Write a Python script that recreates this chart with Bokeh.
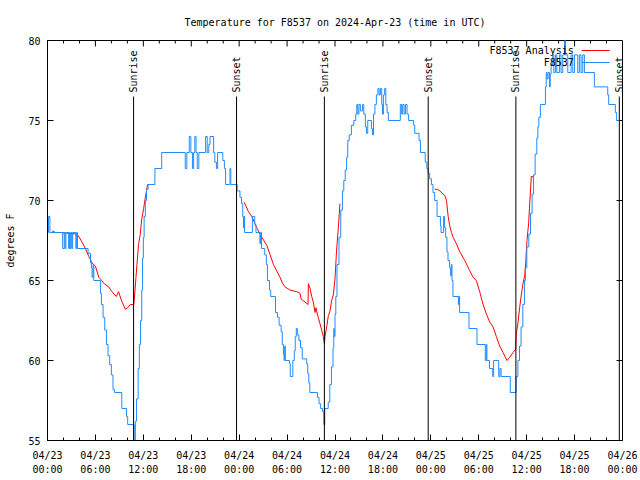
import math
from bokeh.plotting import figure
from bokeh.models import Range1d, FixedTicker, Label
from bokeh.core.properties import value
from bokeh.embed import file_html
from bokeh.resources import INLINE

NaN = float("nan")

# ---- axis ticks (hours since 2024-04-23 00:00 UTC) ----
tick_hours = [0, 6, 12, 18, 24, 30, 36, 42, 48, 54, 60, 66, 72]
tick_labels = ["04/23\n00:00", "04/23\n06:00", "04/23\n12:00", "04/23\n18:00",
               "04/24\n00:00", "04/24\n06:00", "04/24\n12:00", "04/24\n18:00",
               "04/25\n00:00", "04/25\n06:00", "04/25\n12:00", "04/25\n18:00",
               "04/26\n00:00"]
minor_hours = [2, 4, 8, 10, 14, 16, 20, 22, 26, 28, 32, 34, 38, 40, 44, 46,
               50, 52, 56, 58, 62, 64, 68, 70]
y_ticks = [55, 60, 65, 70, 75, 80]

# ---- observed temperature F8537 (hours, degF) ----
obs_hours = [0.0, 0.12, 0.3, 1.9, 2.1, 2.2, 2.3, 2.65, 2.75, 2.85, 2.95, 3.05, 3.15, 3.55, 3.65, 3.75,
             5.08, 5.38, 5.5, 5.58, 5.7, 5.8, 6.63, 6.75, 6.96, 7.17, 7.38, 7.58, 7.79, 8.0, 8.2, 8.38,
             9.3, 9.9, 10.04, 10.85, 11.0, 11.15, 11.35, 11.5, 11.65, 11.8, 11.9, 12.0, 12.1, 12.25,
             12.4, 12.6, 13.45, 14.3, 17.25, 17.45, 17.75, 17.95, 18.15, 18.3, 18.45, 18.6, 18.75,
             18.95, 19.8, 20.0, 20.2, 20.35, 20.8, 20.95, 21.15, 21.3, 21.95, 22.15, 22.3, 22.85,
             22.95, 23.75, 24.1, 24.3, 24.45, 24.54, 24.6, 24.68, 25.65, 25.95, 26.1, 26.6, 26.68,
             26.8, 27.2, 27.4, 27.54, 27.8, 27.95, 28.55, 28.8, 29.0, 29.25, 29.4, 29.54, 29.62,
             29.7, 29.78, 30.3, 30.4, 30.72, 30.9, 31.02, 31.15, 31.28, 31.48, 31.68, 31.9, 32.45,
             32.58, 32.72, 32.85, 33.8, 34.0, 34.2, 34.45, 34.6, 34.72, 35.15, 35.35, 35.55, 35.75,
             35.85, 35.92, 36.0, 36.1, 36.25, 36.5, 36.72, 36.93, 37.1, 37.28, 37.45, 37.6, 37.78,
             38.05, 38.35, 38.6, 38.73, 38.85, 39.0, 39.18, 39.45, 39.6, 39.8, 39.94, 40.1, 40.56,
             40.68, 40.82, 41.0, 41.18, 41.38, 41.52, 41.68, 41.85, 41.95, 42.06, 42.22, 42.36,
             42.52, 42.68, 44.18, 44.35, 44.48, 44.65, 44.82, 45.02, 45.22, 45.85, 45.98, 46.52,
             46.7, 47.3, 47.5, 47.65, 47.85, 48.08, 48.27, 48.48, 48.78, 49.2, 49.28, 49.6, 49.72,
             49.86, 50.02, 50.15, 50.35, 50.48, 50.57, 50.65, 50.77, 51.45, 51.52, 51.6, 52.78,
             53.78, 54.82, 54.94, 55.02, 55.35, 55.75, 55.86, 56.5, 56.65, 56.8, 57.95, 58.68,
             58.9, 59.1, 59.3, 59.52, 59.72, 59.86, 60.02, 60.27, 60.48, 60.68, 60.86, 61.06,
             61.27, 61.4, 61.52, 61.72, 62.35, 62.45, 62.56, 62.68, 62.85, 62.95, 63.06, 63.27,
             63.4, 63.6, 63.77, 64.1, 64.3, 64.52, 64.73, 64.86, 65.15, 65.56, 65.77, 65.98, 66.4,
             66.6, 66.81, 67.02, 67.23, 68.48, 70.15, 70.27, 71.1, 71.27, 71.65]
obs_temps = [68, 69, 68, 67, 68, 67, 68, 67, 68, 67, 68, 67, 68, 67, 68, 67,
             66.7, 66.1, 65.8, 65.2, 66.0, 65.0, 64.2, 63.5, 62.7, 61.9, 61.0, 60.3, 59.75, 59.1, 58.2, 58.0,
             57.0, 56.5, 56.0, 55.0, 56.2, 57.6, 59.5, 61.0, 62.5, 64.4, 66.4, 67.7, 69.0, 70.0,
             70.7, 71.0, 72.0, 73.0, 72.0, 73.0, 74.0, 73.0, 72.0, 73.0, 74.0, 73.0, 72.0,
             73.0, 74.0, 73.0, 73.5, 74.0, 73.0, 72.4, 72.0, 73.0, 72.5, 72.0, 71.0, 72.0,
             71.0, 70.6, 70.2, 69.8, 69.0, 68.3, 69.0, 68.0, 69.0, 68.5, 68.0, 67.3, 68.0,
             67.0, 66.6, 66.0, 65.0, 64.4, 64.0, 63.0, 62.7, 62.2, 61.8, 61.0, 60.4, 60.0,
             60.9, 60.0, 59.8, 59.0, 60.0, 60.6, 61.5, 62.0, 61.6, 61.25, 60.8, 60.1, 59.8,
             59.2, 58.6, 58.0, 57.7, 57.3, 57.0, 56.8, 56.0, 57.0, 57.4, 58.5, 59.6, 60.8,
             62.0, 61.5, 62.9, 64.0, 66.0, 67.7, 69.4, 70.6, 71.25, 71.9, 72.7, 73.75, 74.1,
             74.7, 75.0, 75.4, 76.0, 75.4, 76.0, 75.6, 76.0, 75.4, 74.6, 74.2, 75.0, 74.5,
             74.1, 75.4, 76.0, 76.6, 77.0, 76.6, 77.0, 76.0, 75.4, 76.6, 77.0, 76.0,
             75.5, 75.0, 76.0, 75.4, 76.0, 75.4, 76.0, 75.4, 75.0, 74.7, 74.2, 73.75,
             73.0, 72.4, 72.0, 71.7, 71.35, 71.0, 70.5, 70.0, 69.0, 68.4, 68.0, 69.0, 68.3,
             67.7, 66.8, 66.25, 65.8, 65.3, 66.0, 65.0, 64.0, 63.5, 64.0, 63.0, 62.0,
             61.0, 60.0, 61.0, 60.0, 59.5, 59.0, 60.0, 59.0, 59.5, 59.0, 58.0, 59.0,
             60.0, 60.9, 62.1, 63.5, 65.0, 65.8, 67.1, 67.9, 69.2, 70.4, 71.6, 72.9,
             73.9, 74.6, 75.2, 76.0, 77.1, 78.0, 77.6, 78.0, 77.1, 77.9, 78.5, 79.1,
             78.0, 79.1, 78.0, 79.1, 78.0, 79.1, 80.0, 79.1, 78.0, 79.1, 78.0, 79.1, 78.0,
             79.1, 78.0, 79.1, 78.0, 77.1, 76.6, 76.0, 75.5, 75.0, 75.0]

# ---- F8537 Analysis (hours, degF); NaN separates the three morning runs ----
ana_hours = [0.58, 1.0, 1.6, 3.7, 4.1, 4.75, 5.17, 5.58, 6.0, 6.42, 6.8, 7.1, 7.67, 8.08, 8.62,
             8.9, 9.3, 9.75, 10.04, 10.38, 10.8, 10.88, 11.08, 11.2, 11.4, 11.62, 11.79, 12.04,
             12.25, 12.46, 12.54, 12.8, NaN,
             24.62, 25.17, 25.58, 26.2, 26.83, 27.46, 27.88, 28.29, 28.7, 29.12, 29.46, 29.75,
             30.38, 31.2, 31.62, 31.75, 32.25, 32.62, 32.67, 32.88, 33.08, 33.29, 33.5, 33.62,
             33.79, 33.9, 34.12, 34.33, 34.54, 34.67, 34.75, 34.96, 35.17, 35.38, 35.58, 35.79,
             36.0, 36.2, 36.42, 36.62, NaN,
             48.5, 48.79, 49.12, 49.75, 49.96, 50.17, 50.38, 50.58, 50.79, 51.2, 51.62, 52.25,
             52.88, 53.29, 53.7, 54.12, 54.54, 54.96, 55.38, 55.79, 56.2, 56.62, 57.04, 57.54,
             57.88, 58.29, 58.62, 58.7, 58.9, 59.12, 59.33, 59.54, 59.75, 59.88, 60.04, 60.25,
             60.38, 60.58, 60.79]
ana_temps = [68.1, 68.0, 68.0, 67.9, 67.6, 67.0, 66.5, 66.1, 65.9, 65.2, 65.0, 64.8, 64.6, 64.3, 64.0,
             64.3, 63.7, 63.2, 63.3, 63.5, 63.5, 63.9, 65.2, 66.0, 67.25, 67.9, 68.8, 69.5,
             70.2, 70.8, 71.0, 71.0, NaN,
             69.9, 69.3, 69.0, 68.3, 67.7, 67.2, 66.6, 66.0, 65.6, 65.2, 64.8, 64.6,
             64.4, 64.3, 64.2, 63.85, 63.65, 63.5, 64.8, 64.5, 64.0, 63.65, 63.0, 63.3,
             62.9, 62.7, 62.3, 61.9, 61.5, 61.05, 61.5, 62.1, 62.8, 63.1, 63.75, 64.1,
             65.1, 66.9, 68.3, 69.8, NaN,
             70.7, 70.7, 70.6, 70.3, 70.0, 69.0, 68.4, 68.0, 67.7, 67.3, 66.8, 66.25,
             65.6, 65.2, 65.0, 64.3, 63.5, 62.9, 62.4, 62.1, 61.5, 60.9, 60.5, 60.0,
             60.2, 60.5, 60.7, 61.7, 62.3, 63.3, 64.1, 64.8, 65.3, 66.1, 67.5, 68.6,
             69.8, 71.5, 71.5]

# ---- sunrise / sunset markers ----
sun_hours = [10.78, 23.67, 34.67, 47.67, 58.65, 71.6]
sun_labels = ["Sunrise", "Sunset", "Sunrise", "Sunset", "Sunrise", "Sunset"]

title_text = "Temperature for F8537 on 2024-Apr-23 (time in UTC)"
FONT = "DejaVu Sans Mono"
BLUE = "#1e8cff"
RED = "#ff0000"
X0, X1, Y0, Y1 = 0, 72, 55, 80

p = figure(width=640, height=480, output_backend="svg", toolbar_location=None,
           x_range=Range1d(X0, X1), y_range=Range1d(Y0, Y1),
           min_border_left=47, min_border_right=18, min_border_top=40, min_border_bottom=40,
           title=title_text)
p.background_fill_color = "white"
p.border_fill_color = "white"
p.outline_line_color = "black"
p.outline_line_width = 1
p.xgrid.visible = False
p.ygrid.visible = False

p.title.text_font = FONT
p.title.text_font_size = "10px"
p.title.text_font_style = "normal"
p.title.text_color = "black"
p.title.align = "center"
p.title.standoff = 25

def style_axis(ax, ticks, minors):
    ax.ticker = FixedTicker(ticks=ticks, minor_ticks=minors)
    ax.axis_line_color = "black"
    ax.major_tick_line_color = "black"
    ax.minor_tick_line_color = "black"
    ax.major_tick_in = 6
    ax.major_tick_out = 0
    ax.minor_tick_in = 3
    ax.minor_tick_out = 0
    ax.major_label_text_font = FONT
    ax.major_label_text_color = "black"
    ax.major_label_text_font_size = "10px"

xa = p.xaxis[0]
style_axis(xa, tick_hours, minor_hours)
xa.major_label_overrides = {h: lab for h, lab in zip(tick_hours, tick_labels)}
xa.major_label_standoff = 9
xa.major_label_text_line_height = 1.35
xa.axis_label_standoff = 0

ya = p.yaxis[0]
style_axis(ya, y_ticks, [])
ya.major_label_standoff = 7
ya.axis_label = "degrees F"
ya.axis_label_text_font = FONT
ya.axis_label_text_font_size = "10px"
ya.axis_label_text_font_style = "normal"
ya.axis_label_text_color = "black"
ya.axis_label_standoff = 9

# mirrored inward ticks on the top and right edges (gnuplot style)
maj_y = 6 * (Y1 - Y0) / 400.0
min_y = 3 * (Y1 - Y0) / 400.0
maj_x = 6 * (X1 - X0) / 575.0
p.segment(x0=tick_hours, y0=[Y1] * len(tick_hours), x1=tick_hours,
          y1=[Y1 - maj_y] * len(tick_hours), line_color="black", line_width=1)
p.segment(x0=minor_hours, y0=[Y1] * len(minor_hours), x1=minor_hours,
          y1=[Y1 - min_y] * len(minor_hours), line_color="black", line_width=1)
p.segment(x0=[X1] * len(y_ticks), y0=y_ticks, x1=[X1 - maj_x] * len(y_ticks),
          y1=y_ticks, line_color="black", line_width=1)

# data
p.line(ana_hours, ana_temps, line_color=RED, line_width=1)
p.step(obs_hours, obs_temps, mode="after", line_color=BLUE, line_width=1)

# sunrise / sunset lines and labels
n = len(sun_hours)
p.segment(x0=sun_hours, y0=[Y0] * n, x1=sun_hours, y1=[76.5] * n, line_color="black", line_width=1)
p.text(x=sun_hours, y=[76.75] * n, text=sun_labels, angle=math.pi / 2,
       text_align="left", text_baseline="middle", text_font=value(FONT),
       text_font_size="10px", text_color="black")

# gnuplot-style key (text, then sample line)
key_rows = [("F8537 Analysis", RED, 79.375), ("F8537", BLUE, 78.625)]
for lab, col, yk in key_rows:
    p.add_layout(Label(x=65.9, y=yk, text=lab, text_align="right", text_baseline="middle",
                       text_font=FONT, text_font_size="10px", text_color="black"))
    p.segment(x0=[66.9], y0=[yk], x1=[70.4], y1=[yk], line_color=col, line_width=1)

open("out.html", "w").write(file_html(p, INLINE))
